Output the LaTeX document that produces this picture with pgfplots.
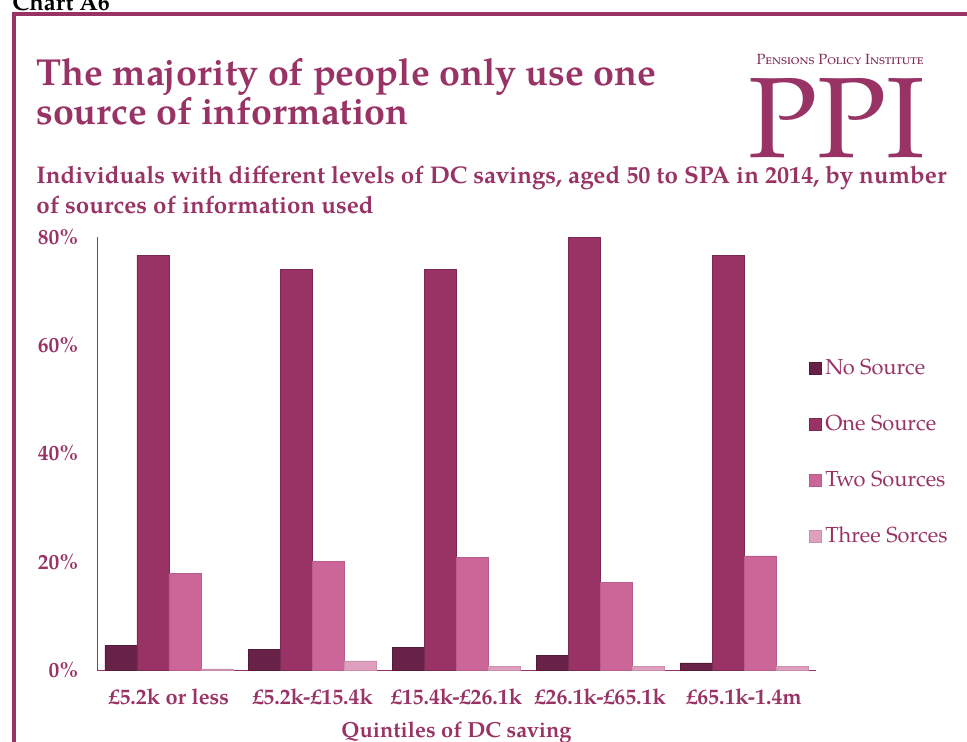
\documentclass[border=0pt]{standalone}
\usepackage{pgfplots}
\pgfplotsset{compat=1.18}
\usepackage{fontspec}
\setmainfont{texgyrepagella}[Extension=.otf, UprightFont=*-regular, BoldFont=*-bold, ItalicFont=*-italic, BoldItalicFont=*-bolditalic]
\definecolor{ppi}{HTML}{993366}
\definecolor{cNo}{HTML}{682248}
\definecolor{cOne}{HTML}{993366}
\definecolor{cTwo}{HTML}{CC6699}
\definecolor{cThree}{HTML}{DFA0C0}
\pgfplotstableread{
x no one two three
0 4.5 76.6 17.8 0.2
1 3.8 74.0 20.1 1.7
2 4.2 74.0 20.8 0.6
3 2.7 80.0 16.2 0.6
4 1.3 76.6 21.1 0.6
}\datatable
\begin{document}
\begin{tikzpicture}
\useasboundingbox (0,0) rectangle (193.4mm,-148.4mm);
% frame
\draw[ppi, line width=2.3pt] (2.8mm,-148.6mm) -- (2.8mm,-2.8mm) -- (194mm,-2.8mm);
\node[anchor=base west, inner sep=0, font=\bfseries\fontsize{13.5}{14}\selectfont] at (2.4mm,-2.2mm) {Chart A6};
% title
\node[anchor=base west, inner sep=0, text=ppi, font=\bfseries\fontsize{21.4}{22}\selectfont] at (7.2mm,-17mm) {The majority of people only use one};
\node[anchor=base west, inner sep=0, text=ppi, font=\bfseries\fontsize{21.4}{22}\selectfont] at (7.2mm,-24.9mm) {source of information};
% subtitle
\node[anchor=base west, inner sep=0, text=ppi, font=\bfseries\fontsize{13.75}{15}\selectfont] at (7.2mm,-36.6mm) {Individuals with different levels of DC savings, aged 50 to SPA in 2014, by number};
\node[anchor=base west, inner sep=0, text=ppi, font=\bfseries\fontsize{13.75}{15}\selectfont] at (7.2mm,-42.6mm) {of sources of information used};
% logo
\node[anchor=base, inner sep=0, text=ppi!85!black, font=\fontsize{8.4}{9}\selectfont] at (168mm,-13mm) {\textsc{Pensions Policy Institute}};
\node[anchor=base, inner sep=0, text=ppi, font=\fontsize{65}{66}\selectfont] at (167.4mm,-31.4mm) {\smash{PPI}};
\begin{axis}[
  at={(19.4mm,-134mm)}, anchor=south west,
  scale only axis, width=143.8mm, height=86.6mm,
  xmin=-0.5, xmax=4.5, ymin=0, ymax=80,
  axis x line*=bottom, axis y line*=left,
  axis line style={ppi, line width=0.5pt, -},
  major tick length=0pt,
  xtick={0,1,2,3,4},
  xticklabels={£5.2k or less, £5.2k-£15.4k, £15.4k-£26.1k, £26.1k-£65.1k, £65.1k-1.4m},
  xticklabel style={font=\bfseries\fontsize{12.4}{14}\selectfont, text=ppi, yshift=-7.4pt},
  ytick={0,20,40,60,80},
  yticklabels={0\%,20\%,40\%,60\%,80\%},
  yticklabel style={font=\bfseries\fontsize{12.2}{14}\selectfont, text=ppi, xshift=-7pt},
  xlabel={Quintiles of DC saving},
  xlabel style={font=\bfseries\fontsize{12.4}{14}\selectfont, text=ppi, yshift=-2.6pt},
  ybar=0pt, bar width=0.2226,
  clip=false,
  legend style={at={(1,0.503)}, anchor=west, xshift=-4pt, draw=none, fill=none,
    font=\fontsize{12.4}{14}\selectfont, text=ppi, row sep=17.6pt, inner sep=0pt,
    legend cell align=left},
  legend image code/.code={\fill[#1] (0pt,-3.4pt) rectangle (6.8pt,3.4pt); \draw[#1, line width=0.3pt] (0pt,-3.4pt) rectangle (6.8pt,3.4pt);},
]
\addplot[fill=cNo, draw=cNo!80!black, line width=0.3pt, bar shift=-0.3339] table[x=x,y=no] {\datatable};
\addplot[fill=cOne, draw=cOne!80!black, line width=0.3pt, bar shift=-0.1113] table[x=x,y=one] {\datatable};
\addplot[fill=cTwo, draw=cTwo!90!black, line width=0.3pt, bar shift=0.1113] table[x=x,y=two] {\datatable};
\addplot[fill=cThree, draw=cThree!90!black, line width=0.3pt, bar shift=0.3339] table[x=x,y=three] {\datatable};
\legend{No Source, One Source, Two Sources, Three Sorces}
\end{axis}
\end{tikzpicture}
\end{document}
